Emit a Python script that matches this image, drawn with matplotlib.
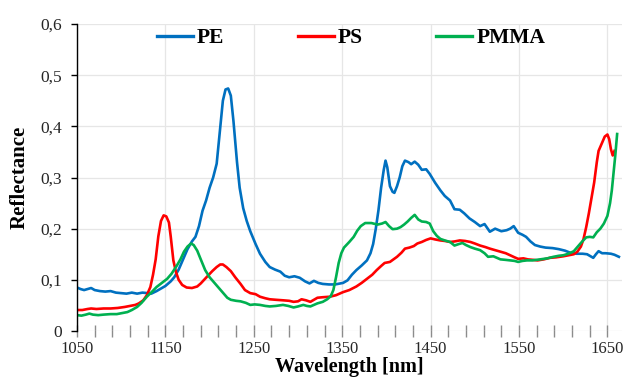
import matplotlib
matplotlib.use("Agg")
import matplotlib.pyplot as plt
from matplotlib.ticker import FixedLocator, MultipleLocator, FuncFormatter

pe_wl = [1050,1054,1058,1062,1066,1070,1076,1082,1088,1094,1100,1106,1112,1118,1124,1130,1134,1140,1146,1150,1156,1160,1165,1170,1175,1180,1184,1188,1192,1196,1200,1204,1208,1212,1215,1218,1221,1224,1227,1231,1234,1238,1242,1246,1252,1257,1263,1268,1274,1280,1285,1290,1296,1302,1308,1313,1318,1323,1328,1335,1342,1351,1356,1361,1366,1372,1378,1382,1385,1388,1391,1394,1397,1399,1401,1404,1407,1409,1412,1415,1418,1421,1425,1428,1432,1436,1440,1445,1449,1455,1461,1466,1472,1477,1483,1488,1494,1500,1506,1511,1517,1523,1530,1536,1540,1544,1549,1554,1558,1563,1568,1574,1580,1588,1595,1602,1608,1615,1622,1627,1630,1634,1637,1640,1644,1648,1654,1658,1663]
pe_r = [.085,.082,.080,.082,.084,.080,.078,.077,.078,.075,.074,.073,.075,.073,.075,.074,.073,.078,.084,.088,.097,.105,.120,.140,.160,.175,.184,.205,.235,.255,.280,.300,.327,.398,.450,.472,.474,.460,.410,.330,.280,.240,.215,.195,.170,.151,.135,.125,.120,.116,.108,.105,.107,.104,.097,.093,.098,.094,.092,.091,.091,.094,.099,.110,.119,.128,.138,.152,.170,.200,.236,.280,.315,.333,.320,.283,.272,.270,.283,.300,.322,.333,.330,.326,.331,.325,.315,.316,.307,.290,.275,.264,.255,.238,.237,.230,.220,.213,.205,.209,.194,.200,.195,.197,.200,.205,.192,.188,.184,.175,.168,.165,.163,.162,.160,.157,.153,.151,.151,.150,.147,.143,.150,.156,.152,.152,.151,.149,.145]

ps_wl = [1050,1056,1062,1066,1072,1080,1088,1096,1104,1110,1116,1120,1125,1129,1133,1136,1139,1142,1145,1148,1151,1154,1156,1159,1162,1165,1169,1174,1180,1186,1190,1197,1203,1208,1212,1215,1219,1224,1229,1235,1240,1246,1252,1257,1263,1268,1275,1283,1290,1295,1300,1304,1309,1314,1318,1322,1328,1336,1343,1351,1358,1366,1372,1378,1384,1389,1394,1398,1404,1408,1412,1417,1421,1426,1431,1435,1440,1445,1450,1455,1461,1466,1472,1477,1483,1489,1495,1500,1506,1512,1517,1523,1529,1535,1540,1545,1549,1555,1560,1566,1571,1578,1585,1592,1600,1606,1612,1616,1620,1623,1626,1629,1632,1635,1638,1640,1643,1647,1650,1652,1654,1656,1658]
ps_r = [.041,.041,.043,.044,.043,.044,.044,.045,.047,.049,.051,.054,.060,.070,.086,.110,.140,.185,.215,.226,.224,.212,.185,.138,.115,.100,.090,.085,.084,.087,.093,.106,.117,.125,.130,.130,.125,.117,.105,.092,.080,.074,.072,.067,.064,.062,.061,.060,.059,.057,.058,.062,.060,.057,.061,.065,.066,.067,.070,.076,.080,.087,.094,.102,.110,.119,.127,.133,.135,.140,.145,.153,.161,.163,.166,.171,.174,.178,.181,.179,.177,.176,.174,.175,.177,.176,.174,.171,.167,.164,.161,.158,.155,.152,.148,.144,.141,.142,.140,.139,.138,.140,.143,.144,.146,.148,.150,.155,.165,.180,.203,.230,.260,.290,.330,.352,.364,.380,.384,.375,.355,.343,.352]

pmma_wl = [1050,1055,1060,1064,1068,1074,1080,1088,1095,1101,1107,1112,1118,1123,1129,1135,1140,1146,1152,1157,1163,1167,1171,1175,1179,1182,1186,1190,1195,1200,1205,1210,1216,1220,1224,1230,1235,1241,1246,1251,1257,1263,1268,1275,1283,1289,1295,1300,1306,1310,1314,1318,1322,1328,1333,1337,1340,1343,1346,1349,1352,1358,1363,1367,1371,1376,1383,1390,1395,1399,1403,1407,1412,1416,1420,1424,1428,1432,1436,1440,1445,1449,1453,1457,1461,1466,1472,1477,1482,1486,1490,1495,1500,1506,1511,1515,1521,1525,1529,1535,1540,1545,1549,1554,1559,1565,1574,1582,1589,1595,1600,1606,1612,1617,1621,1626,1630,1634,1638,1642,1646,1650,1653,1655,1657,1659,1661]
pmma_r = [.031,.030,.032,.034,.032,.031,.032,.033,.033,.035,.037,.041,.047,.055,.067,.077,.086,.094,.102,.112,.128,.140,.155,.165,.171,.168,.157,.140,.119,.105,.095,.085,.073,.065,.061,.059,.058,.055,.051,.052,.051,.049,.048,.049,.051,.049,.046,.048,.051,.049,.048,.051,.054,.057,.062,.068,.080,.105,.133,.152,.163,.174,.184,.196,.205,.211,.211,.208,.210,.213,.205,.199,.200,.203,.208,.214,.221,.227,.218,.214,.213,.210,.195,.186,.180,.177,.174,.167,.170,.172,.168,.164,.161,.158,.152,.145,.146,.143,.140,.139,.138,.137,.135,.137,.138,.138,.140,.142,.145,.147,.148,.151,.156,.166,.174,.183,.184,.183,.193,.200,.210,.225,.250,.275,.310,.345,.385]

series_names = ["PE", "PS", "PMMA"]
colors = ["#0070C0", "#FF0000", "#00B050"]
x_major = [1050, 1150, 1250, 1350, 1450, 1550, 1650]
x_minor = list(range(1050, 1661, 20))

plt.rcParams['font.family'] = ['Liberation Serif', 'DejaVu Serif']

fig = plt.figure(figsize=(6.27, 3.80), dpi=100)
ax = fig.add_axes([77/627, 1-331/380, 545/627, 307/380])

for wl, r, name, c in zip([pe_wl, ps_wl, pmma_wl], [pe_r, ps_r, pmma_r], series_names, colors):
    ax.plot(wl, r, color=c, lw=1.9, label=name, solid_joinstyle='round')

ax.set_xlim(1050, 1666.5)
ax.set_ylim(0, 0.6)
ax.xaxis.set_major_locator(FixedLocator(x_major))
ax.xaxis.set_minor_locator(FixedLocator(x_minor))
ax.yaxis.set_major_locator(MultipleLocator(0.1))

def yfmt(v, pos):
    if abs(v) < 1e-9:
        return "0"
    return ("%.1f" % v).replace(".", ",")
ax.yaxis.set_major_formatter(FuncFormatter(yfmt))

ax.grid(True, which='major', color='#E6E6E6', lw=0.9)
ax.set_axisbelow(True)
for s in ['top', 'right', 'bottom']:
    ax.spines[s].set_visible(False)
ax.spines['left'].set_color('black')
ax.spines['left'].set_linewidth(1.0)

ax.tick_params(axis='x', which='both', direction='inout', length=9, width=1.0,
               color='#8C8C8C', labelsize=12, pad=2.5)
ax.tick_params(axis='y', which='major', direction='out', length=4.5, width=1.0,
               color='black', labelsize=12.5, pad=6)
for lab in ax.get_xticklabels() + ax.get_yticklabels():
    lab.set_color('#262626')

ax.set_xlabel("Wavelength [nm]", fontsize=14.5, fontweight='bold', labelpad=0)
ax.set_ylabel("Reflectance", fontsize=15, fontweight='bold', labelpad=8)

leg = ax.legend(loc='center', bbox_to_anchor=(0.503, 0.954), ncol=3, frameon=False,
                prop={'family': 'Liberation Serif', 'weight': 'bold', 'size': 15.5},
                handlelength=1.67, handletextpad=0.2, columnspacing=3.4, borderpad=0,
                borderaxespad=0)
for h in leg.get_lines():
    h.set_linewidth(2.4)

fig.savefig("out.png", dpi=100)
